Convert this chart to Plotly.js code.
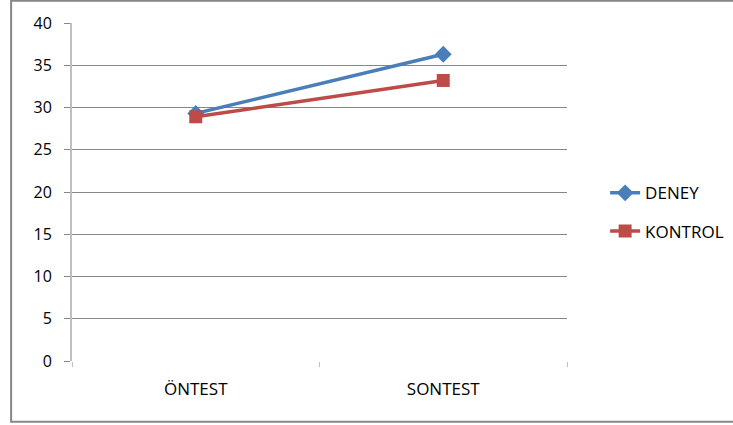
<!DOCTYPE html>
<html>
<head>
<meta charset="utf-8">
<script src="https://cdn.plot.ly/plotly-3.0.1.min.js"></script>
<style>html,body{margin:0;padding:0;background:#fff;}#chart{width:733px;height:425px;}</style>
</head>
<body>
<div id="chart"></div>
<script>
const categories = ["ÖNTEST", "SONTEST"];
const deneyValues = [29.3, 36.3];
const kontrolValues = [28.9, 33.2];
const yTickValues = [0, 5, 10, 15, 20, 25, 30, 35, 40];

const FONT = "Open Sans, Liberation Sans, sans-serif";

const traces = [
  {
    x: categories, y: deneyValues, name: "DENEY", type: "scatter", mode: "lines+markers",
    legendgroup: "a",
    line: {color: "#4a7ebb", width: 3.5},
    marker: {symbol: "diamond", size: 13, color: "#4a7ebb"}
  },
  {
    x: categories, y: kontrolValues, name: "KONTROL", type: "scatter", mode: "lines+markers",
    legendgroup: "b",
    line: {color: "#be4b48", width: 3.5},
    marker: {symbol: "square", size: 13, color: "#be4b48"}
  }
];

const layout = {
  width: 733, height: 425,
  margin: {l: 72, r: 166, t: 23, b: 64, pad: 0, autoexpand: false},
  paper_bgcolor: "#ffffff", plot_bgcolor: "#ffffff",
  font: {family: FONT, size: 16, color: "#000000"},
  showlegend: true,
  legend: {
    x: 1.077, y: 0.44, xanchor: "left", yanchor: "middle",
    traceorder: "grouped", tracegroupgap: 13,
    font: {family: FONT, size: 17, color: "#000"},
    bgcolor: "rgba(0,0,0,0)", itemwidth: 30
  },
  xaxis: {
    type: "category", range: [-0.5, 1.5], automargin: false,
    showgrid: false, zeroline: false, showline: false,
    ticks: "outside", tickson: "boundaries", ticklen: 5, tickcolor: "#bfbfbf",
    tickfont: {family: FONT, size: 17, color: "#000"},
    ticklabelstandoff: 16
  },
  yaxis: {
    range: [0, 40], tickvals: yTickValues, ticktext: yTickValues.map(String), automargin: false,
    showgrid: true, gridcolor: "#868686", gridwidth: 1,
    zeroline: false, showline: true, linecolor: "#bfbfbf", linewidth: 2,
    ticks: "outside", ticklen: 6, tickcolor: "#868686",
    tickfont: {family: FONT, size: 16, color: "#000"},
    ticklabelstandoff: 9
  },
  shapes: [
    {type: "rect", xref: "paper", yref: "paper", x0: -0.123, x1: 1.36, y0: -0.18, y1: 1.066,
     line: {color: "#878787", width: 2}, fillcolor: "rgba(0,0,0,0)", layer: "below"}
  ]
};

Plotly.newPlot("chart", traces, layout, {displayModeBar: false, staticPlot: true});
</script>
</body>
</html>
